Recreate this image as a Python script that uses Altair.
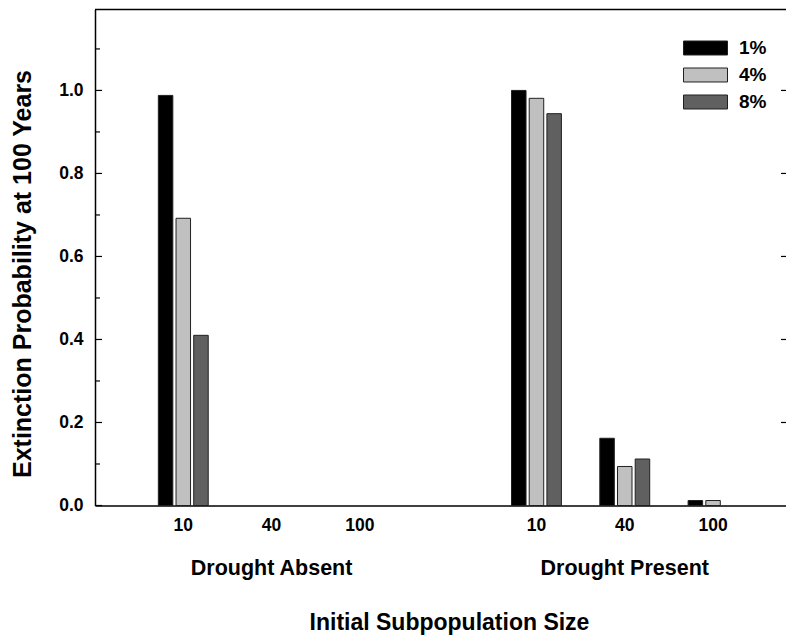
import altair as alt
import pandas as pd

# ---- data ----
droughts = ["Drought Absent", "Drought Present"]
sizes = ["10", "40", "100"]
pcts = ["1%", "4%", "8%"]
absent_1 = [0.988, 0.0, 0.0]
absent_4 = [0.692, 0.0, 0.0]
absent_8 = [0.410, 0.0, 0.0]
present_1 = [1.000, 0.162, 0.012]
present_4 = [0.981, 0.094, 0.012]
present_8 = [0.944, 0.112, 0.0]
colors = ["#000000", "#c0c0c0", "#606060"]
y_major = [0.0, 0.2, 0.4, 0.6, 0.8, 1.0]
y_minor = [0.1, 0.3, 0.5, 0.7, 0.9, 1.1]

series = {
    ("Drought Absent", "1%"): absent_1,
    ("Drought Absent", "4%"): absent_4,
    ("Drought Absent", "8%"): absent_8,
    ("Drought Present", "1%"): present_1,
    ("Drought Present", "4%"): present_4,
    ("Drought Present", "8%"): present_8,
}
rows = []
for (d, p), vals in series.items():
    for s, v in zip(sizes, vals):
        rows.append({"slot": f"{d}|{s}", "pct": p, "val": v})
df = pd.DataFrame(rows)

slot_domain = [f"{droughts[0]}|{s}" for s in sizes] + [" "] + [f"{droughts[1]}|{s}" for s in sizes]

W, H = 691, 496
FONT = "Liberation Sans"
YDOM = [0, 1.195]

xscale = alt.Scale(domain=slot_domain, paddingInner=0.034, paddingOuter=0.43, align=0.601)
yscale = alt.Scale(domain=YDOM, nice=False, zero=True)

x_axis = alt.Axis(title="Initial Subpopulation Size", labelAngle=0,
                  labelExpr="indexof(datum.value, '|') > 0 ? split(datum.value, '|')[1] : ''",
                  ticks=False, domain=True, domainColor="black", domainWidth=1.5, grid=False,
                  labelFont=FONT, labelFontSize=17.5, labelFontWeight="bold", labelColor="black",
                  labelPadding=11,
                  titleFont=FONT, titleFontSize=23, titleFontWeight="bold", titleColor="black",
                  titleX=354, titleY=124, titleBaseline="alphabetic", titleAlign="center")
y_axis = alt.Axis(title="Extinction Probability at 100 Years", values=y_major, format=".1f",
                  ticks=False, domain=True, domainColor="black", domainWidth=1.5, grid=False,
                  labelFont=FONT, labelFontSize=17.5, labelFontWeight="bold", labelColor="black",
                  labelPadding=12,
                  titleFont=FONT, titleFontSize=25, titleFontWeight="bold", titleColor="black",
                  titleX=-73, titleY=264, titleAngle=-90, titleBaseline="middle", titleAlign="center")

bars = alt.Chart(df).transform_filter("datum.val > 0").mark_bar(
    stroke="#202020", strokeWidth=1
).encode(
    x=alt.X("slot:N", scale=xscale, sort=slot_domain, axis=x_axis),
    xOffset=alt.XOffset("pct:N", scale=alt.Scale(domain=pcts, paddingInner=0.18, paddingOuter=1.0)),
    y=alt.Y("val:Q", scale=yscale, axis=y_axis),
    color=alt.Color("pct:N", scale=alt.Scale(domain=pcts, range=colors),
                    legend=alt.Legend(title=None, orient="none", legendX=588, legendY=26, padding=0,
                                      symbolType="M-1,-0.318L1,-0.318L1,0.318L-1,0.318Z",
                                      symbolSize=1936, symbolStrokeColor="#202020", symbolStrokeWidth=1,
                                      symbolOpacity=1, clipHeight=25, rowPadding=2,
                                      labelFont=FONT, labelFontSize=19, labelFontWeight="bold",
                                      labelColor="black", labelOffset=11)),
)

grp = pd.DataFrame({"slot": [f"{d}|{sizes[1]}" for d in droughts], "label": droughts})
group_labels = alt.Chart(grp).mark_text(
    font=FONT, fontSize=21.5, fontWeight="bold", color="black", baseline="middle", align="center"
).encode(
    x=alt.X("slot:N", scale=xscale, sort=slot_domain, axis=x_axis),
    y=alt.value(559.5),
    text="label:N",
)

def rule_layer(vals, x0, x1, sw=1.2):
    return alt.Chart(pd.DataFrame({"val": vals})).mark_rule(color="black", strokeWidth=sw).encode(
        y=alt.Y("val:Q", scale=yscale, axis=y_axis), x=alt.value(x0), x2=alt.value(x1))

ticks_left_major = rule_layer(y_major, 0, 7)
ticks_left_minor = rule_layer(y_minor, 0, 5)
ticks_right = rule_layer(y_major[1:], W - 5, W)
top_line = rule_layer([YDOM[1]], 0, W, 1.5)

chart = alt.layer(bars, group_labels, ticks_left_major, ticks_left_minor, ticks_right, top_line).properties(
    width=W, height=H,
    autosize=alt.AutoSizeParams(type="none"),
    padding={"left": 87, "top": 1.5, "right": 0, "bottom": 129.5},
).configure_view(stroke=None)

chart.save("out.html", embed_options={"renderer": "svg", "actions": False})
